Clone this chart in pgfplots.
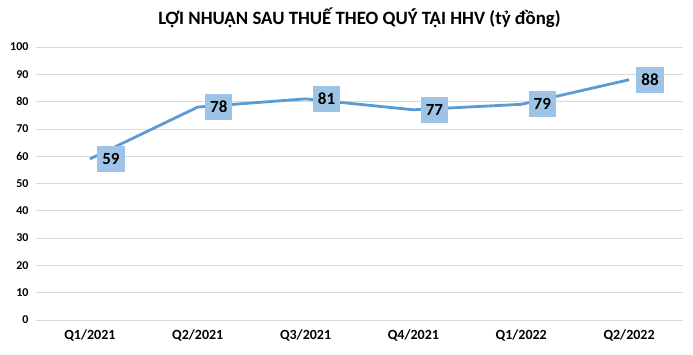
\documentclass[border=0pt]{standalone}
\usepackage{pgfplots}
\pgfplotsset{compat=1.18}
\usepackage{fontspec}
\setmainfont{Carlito}
\definecolor{lineblue}{HTML}{5B9BD5}
\definecolor{boxblue}{HTML}{9DC3E6}
\definecolor{gridgray}{HTML}{D9D9D9}
\begin{document}
\begin{tikzpicture}
\begin{axis}[
  scale only axis, width=647pt, height=273pt,
  xmin=-0.5, xmax=5.5, ymin=0, ymax=100,
  xtick={0,...,5},
  xticklabels={Q1/2021,Q2/2021,Q3/2021,Q4/2021,Q1/2022,Q2/2022},
  ytick={0,10,...,100},
  ymajorgrids, grid style={gridgray, line width=0.8pt},
  axis line style={draw=none},
  major tick length=0pt,
  /pgf/number format/assume math mode=true,
  yticklabel style={font=\fontsize{12}{14}\selectfont\bfseries, xshift=-4pt},
  xticklabel style={font=\fontsize{14}{16}\selectfont\bfseries, yshift=-6pt},
  clip=false,
]
\addplot[lineblue, line width=2.8pt, nodes near coords,
  every node near coord/.append style={anchor=west, xshift=6pt, fill=boxblue, text=black,
    inner xsep=5pt, inner ysep=0pt, minimum height=26pt,
    font=\fontsize{17}{19}\selectfont\bfseries}]
  coordinates {(0,59) (1,78) (2,81) (3,77) (4,79) (5,88)};
\end{axis}
\node[font=\fontsize{18.8}{21}\selectfont\bfseries] at ([yshift=29pt]current axis.north) {LỢI NHUẬN SAU THUẾ THEO QUÝ TẠI HHV (tỷ đồng)};
\pgfresetboundingbox
\path ([shift={(-36pt,-34pt)}]current axis.south west) rectangle ([shift={(10pt,47pt)}]current axis.north east);
\end{tikzpicture}
\end{document}
